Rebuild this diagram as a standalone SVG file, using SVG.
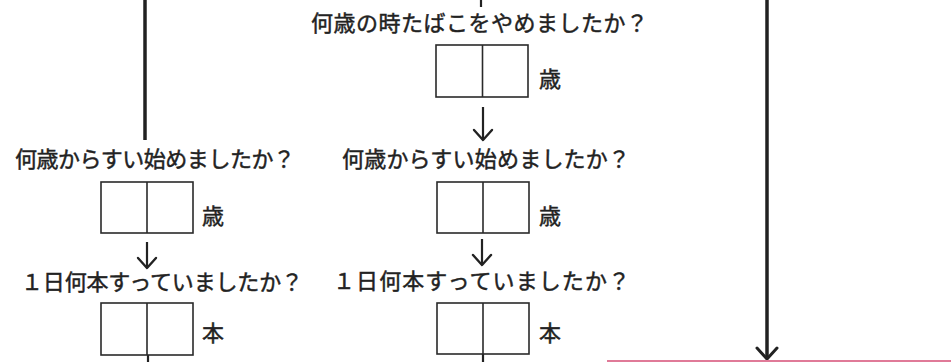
<svg xmlns="http://www.w3.org/2000/svg" width="951" height="362" viewBox="0 0 951 362">
<style>
text{font-family:"Noto Sans CJK JP","Noto Sans CJK SC",sans-serif;font-size:22px;fill:#222;stroke:#222;stroke-width:0.45}
.box{fill:none;stroke:#2a2a2a;stroke-width:1.6}
.div{stroke:#2a2a2a;stroke-width:1.6}
.line{stroke:#222;fill:none}
.thick{stroke-width:3.5}
.thin{stroke-width:2.2}
</style>
<defs>
<marker id="ahSmall" viewBox="-12 -12 14 24" refX="0" refY="0" markerWidth="14" markerHeight="24" markerUnits="userSpaceOnUse" orient="auto">
<path d="M-10,-9 L0,0 L-10,9" fill="none" stroke="#222" stroke-width="2.4" stroke-linejoin="round" stroke-linecap="round"/>
</marker>
<marker id="ahBig" viewBox="-14 -13 16 26" refX="0" refY="0" markerWidth="16" markerHeight="26" markerUnits="userSpaceOnUse" orient="auto">
<path d="M-11,-10 L0,0 L-11,10" fill="none" stroke="#222" stroke-width="3" stroke-linejoin="round" stroke-linecap="round"/>
</marker>
</defs>
<rect width="951" height="362" fill="#fff"/>
<g id="connectors">
<line class="line thick" x1="145" y1="0" x2="145" y2="140"/>
<line class="line thin" x1="147" y1="242" x2="147" y2="268" marker-end="url(#ahSmall)"/>
<line class="line thin" x1="148" y1="355" x2="148" y2="362"/>
<line class="line thin" x1="481" y1="0" x2="481" y2="7"/>
<line class="line thin" x1="483" y1="107" x2="483" y2="140" marker-end="url(#ahSmall)"/>
<line class="line thin" x1="482" y1="239" x2="482" y2="265" marker-end="url(#ahSmall)"/>
<line class="line thin" x1="483" y1="354" x2="483" y2="362"/>
<line class="line thick" x1="767" y1="0" x2="767" y2="359" marker-end="url(#ahBig)"/>
</g>
<g id="q-left-start">
<text x="15" y="166.5" textLength="280" lengthAdjust="spacing">何歳からすい始めましたか？</text>
<rect class="box" x="101" y="182" width="92" height="51"/>
<line class="div" x1="147" y1="182" x2="147" y2="233"/>
<text x="202" y="224">歳</text>
</g>
<g id="q-left-count">
<text x="21" y="290" textLength="282" lengthAdjust="spacing">１日何本すっていましたか？</text>
<rect class="box" x="101" y="303" width="92" height="52"/>
<line class="div" x1="147" y1="303" x2="147" y2="355"/>
<text x="202" y="341">本</text>
</g>
<g id="q-mid-quit">
<text x="311" y="30.5" textLength="337" lengthAdjust="spacing">何歳の時たばこをやめましたか？</text>
<rect class="box" x="436" y="45" width="92" height="52"/>
<line class="div" x1="482.5" y1="45" x2="482.5" y2="97"/>
<text x="539" y="87">歳</text>
</g>
<g id="q-mid-start">
<text x="342" y="166.5" textLength="288" lengthAdjust="spacing">何歳からすい始めましたか？</text>
<rect class="box" x="437" y="182" width="92" height="51"/>
<line class="div" x1="483" y1="182" x2="483" y2="233"/>
<text x="539" y="224">歳</text>
</g>
<g id="q-mid-count">
<text x="333" y="289" textLength="297" lengthAdjust="spacing">１日何本すっていましたか？</text>
<rect class="box" x="437" y="303" width="92" height="51"/>
<line class="div" x1="483" y1="303" x2="483" y2="354"/>
<text x="539" y="341">本</text>
</g>
<g id="pink-box-edge">
<line x1="607" y1="361" x2="951" y2="361" stroke="#e07a98" stroke-width="1.8"/>
</g>
</svg>
